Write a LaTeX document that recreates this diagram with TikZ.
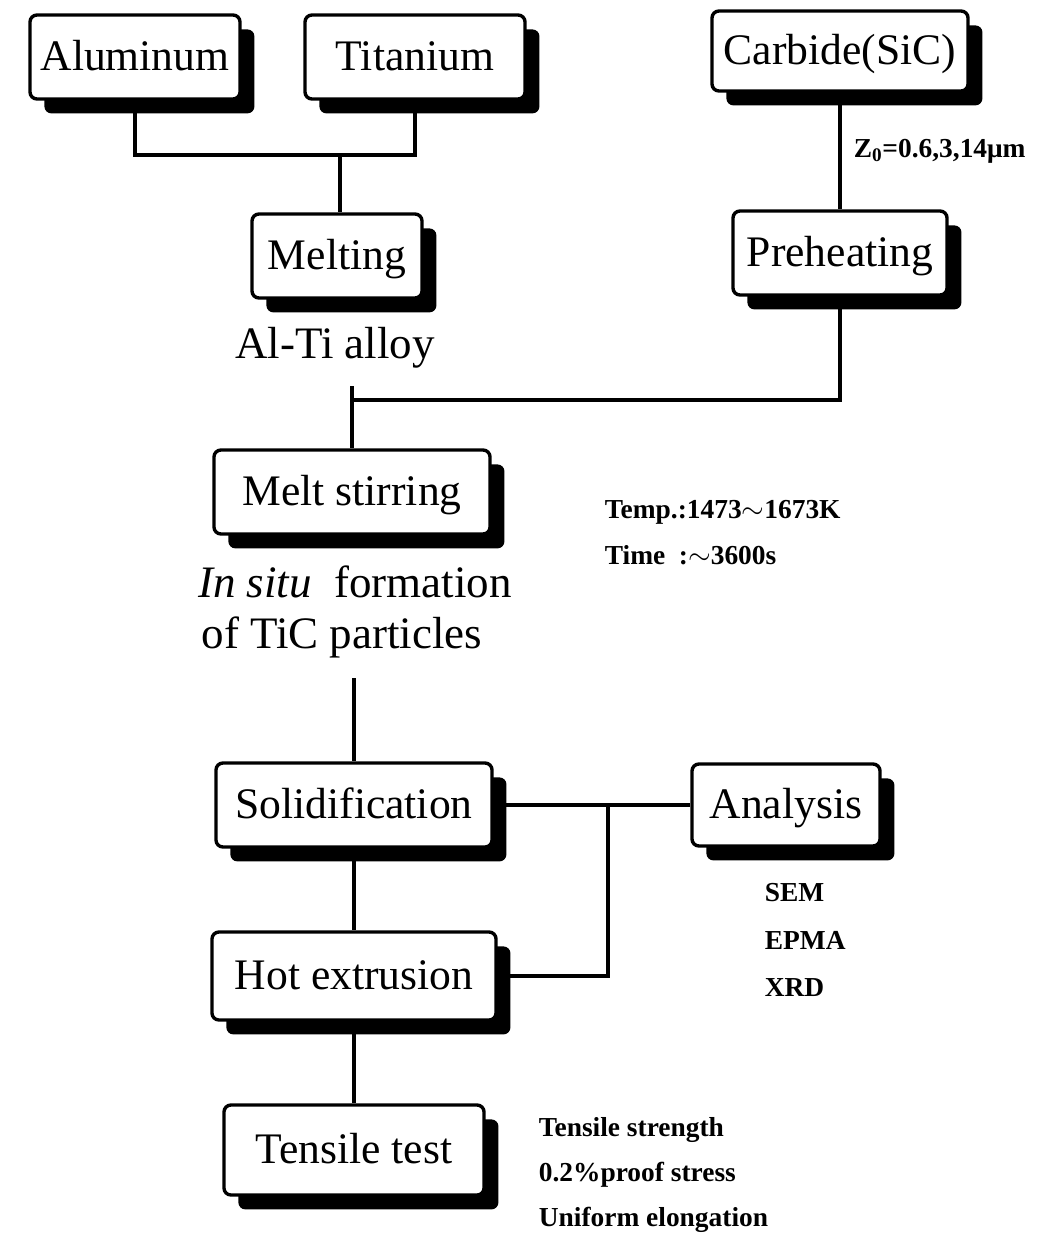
\documentclass[tikz,border=0pt]{standalone}
\usepackage{fontspec}
\setmainfont{Liberation Serif}
\usetikzlibrary{shadows}
\begin{document}
\begin{tikzpicture}[x=0.025cm,y=-0.025cm,line width=2.6pt,
        stage/.style={draw,line width=2.4pt,rounded corners=5pt,fill=white,
            minimum height=2.1cm,inner sep=0pt,text height=19pt,text depth=0pt,
            font=\fontsize{31}{36}\selectfont,
            drop shadow={shadow xshift=0.36cm,shadow yshift=-0.36cm,fill=black,opacity=1}},
        bigtext/.style={font=\fontsize{32}{36}\selectfont},
        note/.style={anchor=west,inner sep=0pt,font=\fontsize{19.5}{22}\selectfont\bfseries}]
        \useasboundingbox (0,0) rectangle (1059,1240);
        % raw materials
        \node[stage,minimum width=5.25cm] (alu) at (135,57) {Aluminum};
        \node[stage,minimum width=5.5cm] (tita) at (415,57) {Titanium};
        \node[stage,minimum width=6.4cm,minimum height=2cm] (carb) at (840,51) {Carbide(SiC)};
        \node[stage,minimum width=4.25cm] (melt) at (337,256) {Melting};
        \node[stage,minimum width=5.35cm] (preh) at (840,253) {Preheating};
        \coordinate (meltjoin) at (340,155);
        \draw (alu.south) |- (meltjoin) -| (tita.south);
        \draw (meltjoin) -- (meltjoin |- melt.north);
        \draw (carb.south) -- (preh.north)
            node[pos=0.5,note,xshift=0.3cm] {Z\textsubscript{0}=0.6,3,14μm};
        \node[bigtext] (alloy) at (335,348) {Al-Ti alloy};
        % melt stirring
        \node[stage,minimum width=6.9cm] (stir) at (352,492) {Melt stirring};
        \coordinate (stirtop) at (352,386);
        \draw (preh.south) |- (stirtop |- 0,400);
        \draw (stirtop) -- (stir.north);
        \node[note] (temp) at (603,512) {Temp.:1473$\sim$1673K};
        \node[note] (time) at (603,555) {Time\ \ :$\sim$3600s};
        \node[bigtext] (insitu) at (355,582) {\textit{In situ}\ \ formation};
        \node[bigtext] (tic) at (342,637) {of TiC particles};
        \coordinate (ticend) at (354,678);
        % processing and testing
        \node[stage,minimum width=6.9cm] (soli) at (354,805) {Solidification};
        \node[stage,minimum width=4.7cm,minimum height=2.05cm] (anal) at (786,805) {Analysis};
        \node[stage,minimum width=7.1cm,minimum height=2.2cm] (hotx) at (354,976) {Hot extrusion};
        \node[stage,minimum width=6.5cm,minimum height=2.25cm] (tens) at (354,1150) {Tensile test};
        \coordinate (analjoin) at (608,805);
        \draw (ticend) -- (soli.north);
        \draw (soli.east) -- (anal.west);
        \draw (analjoin) |- (hotx.east);
        \draw (soli.south) -- (hotx.north);
        \draw (hotx.south) -- (tens.north);
        \node[note] (sem) at (763,893) {SEM};
        \node[note] (epma) at (763,940) {EPMA};
        \node[note] (xrd) at (763,988) {XRD};
        \node[note] (tstr) at (537,1130) {Tensile strength};
        \node[note] (proof) at (537,1175) {0.2\%proof stress};
        \node[note] (elong) at (537,1220) {Uniform elongation};
\end{tikzpicture}
\end{document}
